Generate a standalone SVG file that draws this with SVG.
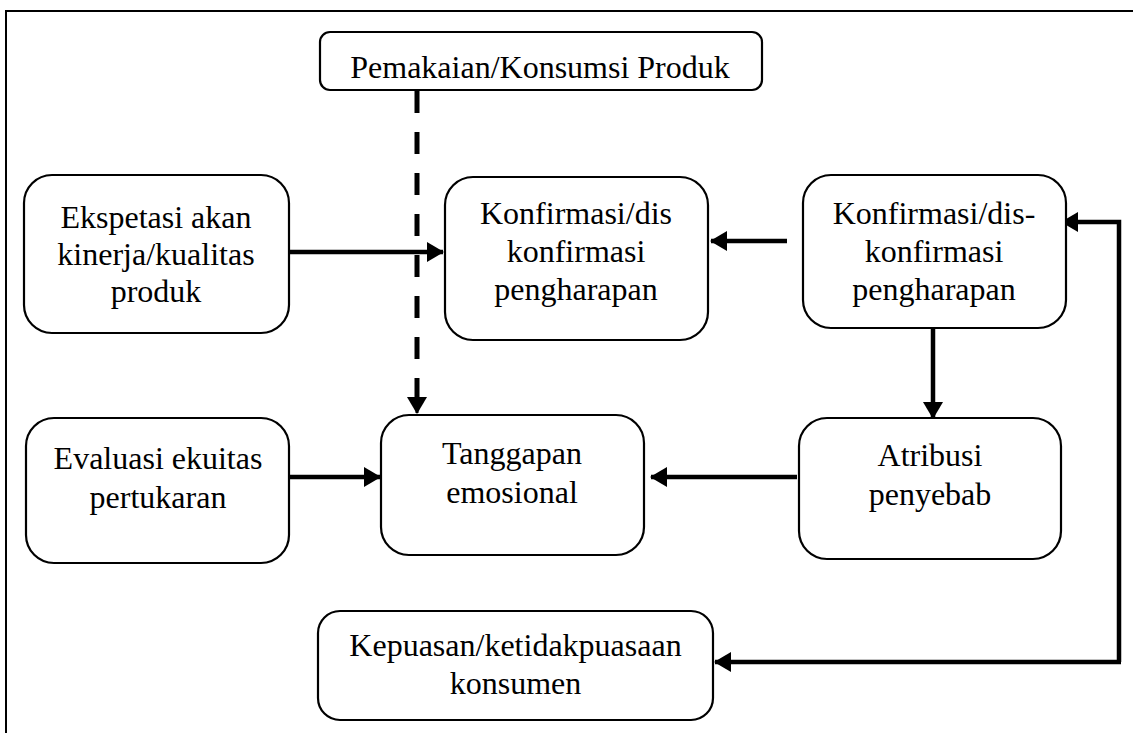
<svg xmlns="http://www.w3.org/2000/svg" width="1133" height="733" viewBox="0 0 1133 733">
<style>
.box{fill:#fff;stroke:#000;stroke-width:2.2}
.t{font-family:"Liberation Serif","Times New Roman",serif;font-size:32px;fill:#000;text-anchor:middle}
.c{fill:none;stroke:#000;stroke-width:4.5}
.d{fill:none;stroke:#000;stroke-width:5;stroke-dasharray:22 19}
</style>
<defs>
<marker id="ah" markerUnits="userSpaceOnUse" markerWidth="17" markerHeight="20" refX="16" refY="10" orient="auto">
<path d="M0,0 L17,10 L0,20 z" fill="#000"/>
</marker>
</defs>
<rect width="1133" height="733" fill="#fff"/>
<g id="frame"><path d="M6,733 L6,11 L1133,11" fill="none" stroke="#000" stroke-width="2"/></g>
<g id="connectors">
<path class="d" d="M417,91 L417,398"/>
<path class="c" d="M417,396 L417,413" marker-end="url(#ah)" style="stroke-width:3"/>
<path class="c" d="M289,252 L443,252" marker-end="url(#ah)"/>
<path class="c" d="M787,241 L711,241" marker-end="url(#ah)"/>
<path class="c" d="M933,328 L933,418" marker-end="url(#ah)"/>
<path class="c" d="M289,477 L380,477" marker-end="url(#ah)"/>
<path class="c" d="M797,477 L651,477" marker-end="url(#ah)"/>
<path class="c" d="M1119,662 L1119,222 L1062,222" marker-end="url(#ah)"/>
<path class="c" d="M1121,662 L715,662" marker-end="url(#ah)"/>
</g>
<g id="n-pemakaian"><rect class="box" x="320" y="32" width="442" height="58" rx="10"/><text class="t" x="540" y="78">Pemakaian/Konsumsi Produk</text></g>
<g id="n-ekspetasi"><rect class="box" x="24" y="175" width="265" height="158" rx="28"/><text class="t" x="156" y="228">Ekspetasi akan</text><text class="t" x="156" y="265">kinerja/kualitas</text><text class="t" x="156" y="302">produk</text></g>
<g id="n-konf-mid"><rect class="box" x="445" y="177" width="263" height="163" rx="28"/><text class="t" x="576" y="224">Konfirmasi/dis</text><text class="t" x="576" y="262">konfirmasi</text><text class="t" x="576" y="300">pengharapan</text></g>
<g id="n-konf-right"><rect class="box" x="803" y="175" width="263" height="153" rx="28"/><text class="t" x="934" y="224">Konfirmasi/dis-</text><text class="t" x="934" y="262">konfirmasi</text><text class="t" x="934" y="300">pengharapan</text></g>
<g id="n-evaluasi"><rect class="box" x="26" y="418" width="263" height="145" rx="28"/><text class="t" x="158" y="469">Evaluasi ekuitas</text><text class="t" x="158" y="508">pertukaran</text></g>
<g id="n-tanggapan"><rect class="box" x="381" y="415" width="263" height="140" rx="28"/><text class="t" x="512" y="464">Tanggapan</text><text class="t" x="512" y="503">emosional</text></g>
<g id="n-atribusi"><rect class="box" x="799" y="418" width="262" height="141" rx="28"/><text class="t" x="930" y="466">Atribusi</text><text class="t" x="930" y="505">penyebab</text></g>
<g id="n-kepuasan"><rect class="box" x="318" y="611" width="395" height="109" rx="22"/><text class="t" x="515.5" y="656">Kepuasan/ketidakpuasaan</text><text class="t" x="515.5" y="694">konsumen</text></g>
</svg>
